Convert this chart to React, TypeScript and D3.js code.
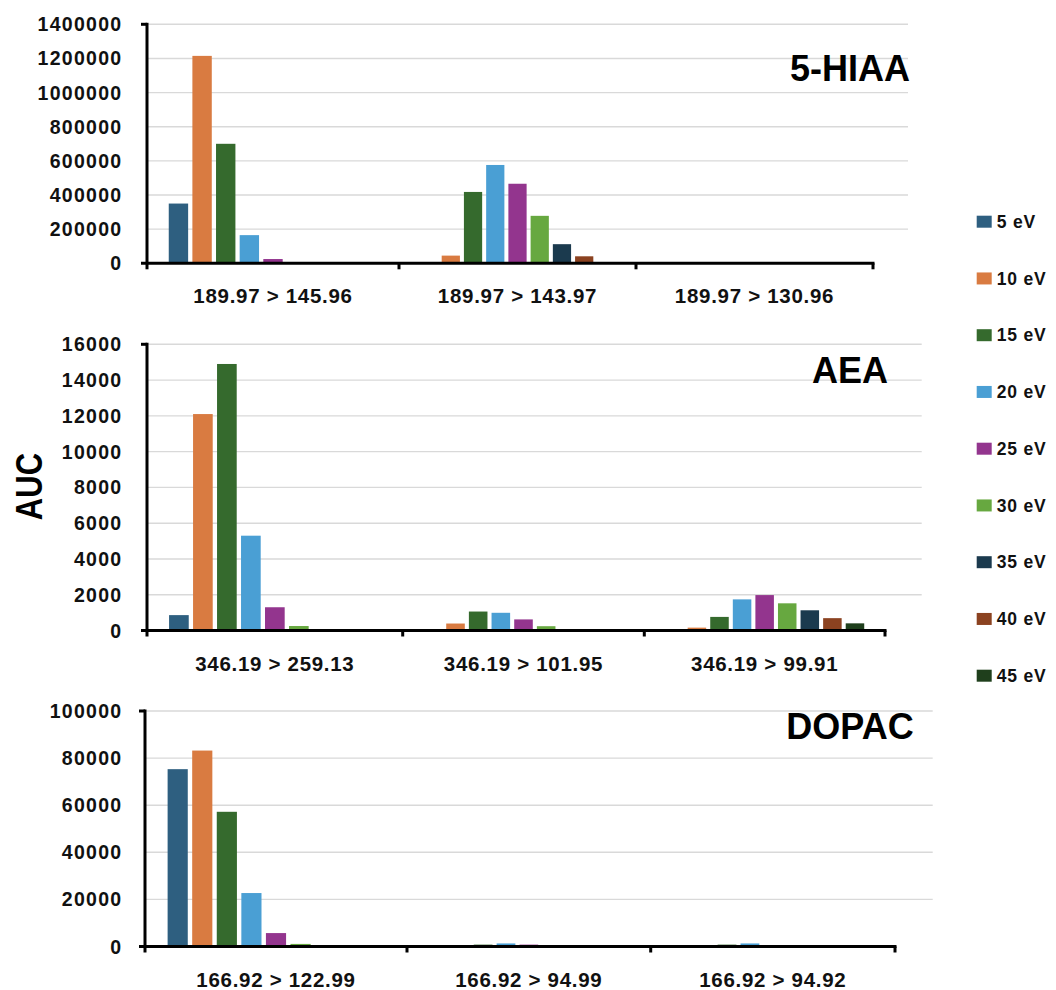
import React from "react";
import * as d3 from "d3";

// Collision energies (series) and their bar colours
const energies = ["5 eV", "10 eV", "15 eV", "20 eV", "25 eV", "30 eV", "35 eV", "40 eV", "45 eV"];
const energyColors = ["#2E5F80", "#D97B41", "#356A2D", "#4A9FD4", "#93358E", "#67A840", "#1B3A4E", "#8B4220", "#1F3F1C"];

// 5-HIAA transitions and AUC per collision energy
const hiaaTransitions = ["189.97 > 145.96", "189.97 > 143.97", "189.97 > 130.96"];
const hiaa_145_96 = [350000, 1215000, 700000, 165000, 25000, 0, 0, 0, 0];
const hiaa_143_97 = [0, 45000, 418000, 576000, 466000, 278000, 112000, 41000, 0];
const hiaa_130_96 = [0, 0, 0, 0, 0, 0, 0, 0, 0];
const hiaaTicks = [0, 200000, 400000, 600000, 800000, 1000000, 1200000, 1400000];

// AEA transitions and AUC per collision energy
const aeaTransitions = ["346.19 > 259.13", "346.19 > 101.95", "346.19 > 99.91"];
const aea_259_13 = [860, 12100, 14900, 5300, 1300, 250, 0, 0, 0];
const aea_101_95 = [0, 390, 1060, 990, 620, 240, 0, 0, 0];
const aea_99_91 = [0, 160, 760, 1740, 1980, 1520, 1130, 690, 400];
const aeaTicks = [0, 2000, 4000, 6000, 8000, 10000, 12000, 14000, 16000];

// DOPAC transitions and AUC per collision energy
const dopacTransitions = ["166.92 > 122.99", "166.92 > 94.99", "166.92 > 94.92"];
const dopac_122_99 = [75300, 83200, 57200, 22700, 5700, 1100, 0, 0, 0];
const dopac_94_99 = [0, 0, 800, 1300, 800, 0, 0, 0, 0];
const dopac_94_92 = [0, 0, 800, 1300, 0, 0, 0, 0, 0];
const dopacTicks = [0, 20000, 40000, 60000, 80000, 100000];

const FONT = "'Liberation Sans', Arial, Helvetica, sans-serif";

type PanelProps = {
  title: string;
  transitions: string[];
  values: number[][];
  ticks: number[];
  yTop: number;
  yZero: number;
  bounds: number[];
  gridEnd: number;
  titleY: number;
};

function Panel({ title, transitions, values, ticks, yTop, yZero, bounds, gridEnd, titleY }: PanelProps) {
  const maxTick = d3.max(ticks) as number;
  const y = d3.scaleLinear().domain([0, maxTick]).range([yZero, yTop]);
  const xCat = d3.scaleLinear().domain(d3.range(bounds.length)).range(bounds);
  const left = bounds[0];
  const right = bounds[bounds.length - 1];

  return (
    <g>
      {/* gridlines */}
      {ticks.filter((t) => t > 0).map((t) => (
        <line key={"g" + t} x1={left} x2={gridEnd} y1={y(t)} y2={y(t)} stroke="#d9d9d9" strokeWidth={1.4} />
      ))}
      {/* bars */}
      {transitions.map((tr, i) => {
        const band = d3
          .scaleBand<string>()
          .domain(energies)
          .range([xCat(i), xCat(i + 1)])
          .paddingInner(0.18)
          .paddingOuter(0.92);
        return (
          <g key={tr}>
            {values[i].map((v, j) =>
              v > 0 ? (
                <rect
                  key={energies[j]}
                  x={band(energies[j])}
                  y={y(v)}
                  width={band.bandwidth()}
                  height={yZero - y(v)}
                  fill={energyColors[j]}
                />
              ) : null
            )}
            <text
              x={(xCat(i) + xCat(i + 1)) / 2}
              y={yZero + 40}
              textAnchor="middle"
              fontFamily={FONT}
              fontWeight="bold"
              fontSize={20.5}
              letterSpacing={0.7}
              fill="#111"
            >
              {tr}
            </text>
          </g>
        );
      })}
      {/* y tick labels */}
      {ticks.map((t) => (
        <text
          key={"t" + t}
          x={122.5}
          y={y(t)}
          dy="0.36em"
          textAnchor="end"
          fontFamily={FONT}
          fontWeight="bold"
          fontSize={19.5}
          letterSpacing={1.3}
          fill="#111"
        >
          {t}
        </text>
      ))}
      {/* axes */}
      <line x1={left} x2={left} y1={yTop - 1.5} y2={yZero + 6} stroke="#000" strokeWidth={3} />
      <line x1={left - 6} x2={left} y1={yTop} y2={yTop} stroke="#000" strokeWidth={3} />
      <line x1={left - 6} x2={right + 1.5} y1={yZero} y2={yZero} stroke="#000" strokeWidth={3} />
      {bounds.slice(1).map((b) => (
        <line key={"c" + b} x1={b} x2={b} y1={yZero} y2={yZero + 6} stroke="#000" strokeWidth={3} />
      ))}
      {/* compound title */}
      <text
        x={850}
        y={titleY}
        textAnchor="middle"
        fontFamily={FONT}
        fontWeight="bold"
        fontSize={36}
        fill="#000"
      >
        {title}
      </text>
    </g>
  );
}

export default function App() {
  const legendY = d3.scaleLinear().domain([0, energies.length - 1]).range([221.7, 675.7]);
  return (
    <svg
      width={1056}
      height={990}
      viewBox="0 0 1056 990"
      style={{ position: "absolute", left: 0, top: 0, background: "#fff" }}
    >
      <rect x={0} y={0} width={1056} height={990} fill="#fff" />
      <Panel
        title="5-HIAA"
        transitions={hiaaTransitions}
        values={[hiaa_145_96, hiaa_143_97, hiaa_130_96]}
        ticks={hiaaTicks}
        yTop={24.3}
        yZero={263.3}
        bounds={[147, 399, 636, 873]}
        gridEnd={908}
        titleY={81}
      />
      <Panel
        title="AEA"
        transitions={aeaTransitions}
        values={[aea_259_13, aea_101_95, aea_99_91]}
        ticks={aeaTicks}
        yTop={344.3}
        yZero={630.5}
        bounds={[147, 402.7, 644.3, 885]}
        gridEnd={921.7}
        titleY={383.3}
      />
      <Panel
        title="DOPAC"
        transitions={dopacTransitions}
        values={[dopac_122_99, dopac_94_99, dopac_94_92]}
        ticks={dopacTicks}
        yTop={711}
        yZero={946.5}
        bounds={[145, 407, 650.7, 895]}
        gridEnd={932.7}
        titleY={739.3}
      />
      {/* shared y-axis title */}
      <text
        transform="translate(41.5,486.5) rotate(-90) scale(0.84,1)"
        textAnchor="middle"
        fontFamily={FONT}
        fontWeight="bold"
        fontSize={37}
        fill="#000"
      >
        AUC
      </text>
      {/* legend */}
      {energies.map((e, i) => (
        <g key={e} transform={`translate(976.7,${legendY(i)})`}>
          <rect x={0} y={-6} width={15} height={12} fill={energyColors[i]} />
          <text
            x={20}
            y={6.2}
            fontFamily={FONT}
            fontWeight="bold"
            fontSize={17.5}
            letterSpacing={0.8}
            fill="#111"
          >
            {e}
          </text>
        </g>
      ))}
    </svg>
  );
}
